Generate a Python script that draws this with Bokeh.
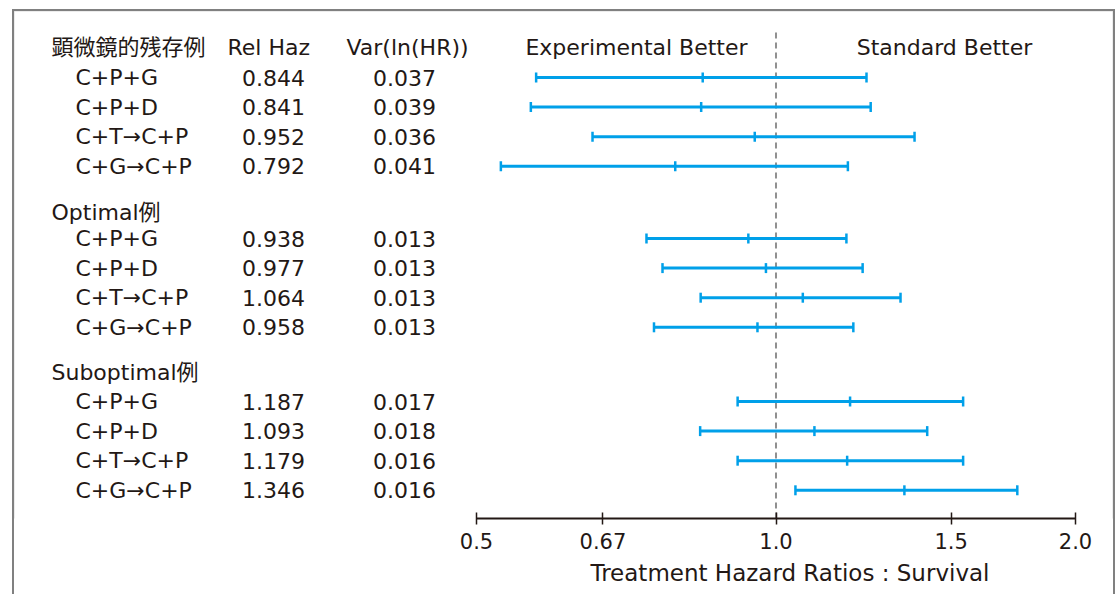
import numpy as np
from bokeh.plotting import figure
from bokeh.models import (Range1d, LogScale, LogAxis, FixedTicker, CustomJSTickFormatter,
                          ColumnDataSource, BoxAnnotation, Title, InlineStyleSheet)
from bokeh.core.properties import value
from bokeh.embed import file_html
from bokeh.resources import INLINE

# ---------------- data ----------------
groups = ["顕微鏡的残存例", "Optimal例", "Suboptimal例"]
treatments = ["C+P+G", "C+P+D", "C+T→C+P", "C+G→C+P"]
rel_haz = [0.844, 0.841, 0.952, 0.792,
           0.938, 0.977, 1.064, 0.958,
           1.187, 1.093, 1.179, 1.346]
var_lnhr = [0.037, 0.039, 0.036, 0.041,
            0.013, 0.013, 0.013, 0.013,
            0.017, 0.018, 0.016, 0.016]
ci_low = [0.574, 0.567, 0.654, 0.529,
          0.741, 0.769, 0.840, 0.754,
          0.915, 0.839, 0.915, 1.046]
ci_high = [1.233, 1.245, 1.378, 1.181,
           1.177, 1.222, 1.334, 1.196,
           1.542, 1.419, 1.542, 1.748]
col_headers = ["Rel Haz", "Var(ln(HR))"]
side_labels = ["Experimental Better", "Standard Better"]
tick_values = [0.5, 0.67, 1.0, 1.5, 2.0]
axis_title = "Treatment Hazard Ratios : Survival"

# ---------------- layout ----------------
W, H = 1120, 594
FRAME_H = 518
AX_LEFT_PX, AX_RIGHT_PX = 476, 1075
HEADER_Y = [47, 212, 372]
FIRST_ROW_Y = [77, 238, 401]
ROW_STEP = 29.6
TXT = "#231815"
BLUE = "#00a0e9"
BORDER = "#808080"
FONT = "DejaVu Sans, Noto Sans CJK JP"

span = np.log(tick_values[-1] / tick_values[0])
per_px = span / (AX_RIGHT_PX - AX_LEFT_PX)
hr_lo = tick_values[0] * np.exp(-AX_LEFT_PX * per_px)
hr_hi = tick_values[-1] * np.exp((W - AX_RIGHT_PX) * per_px)

border_css = InlineStyleSheet(css=f"""
:host::after {{
  content: "";
  position: absolute;
  left: 12px; top: 9px; width: 1099px; height: 600px;
  border-top: 2px solid {BORDER};
  border-left: 2px solid {BORDER};
  border-right: 2px solid {BORDER};
  pointer-events: none;
}}
""")

p = figure(width=W, height=H, output_backend="svg", toolbar_location=None,
           x_range=Range1d(0, W), y_range=Range1d(FRAME_H, 0),
           x_axis_type=None, y_axis_type=None,
           min_border_left=0, min_border_right=0, min_border_top=0,
           min_border_bottom=H - FRAME_H, stylesheets=[border_css])
p.outline_line_color = None
p.grid.visible = False
p.background_fill_color = "white"
p.border_fill_color = "white"
p.extra_x_ranges = {"hr": Range1d(hr_lo, hr_hi)}
p.extra_x_scales = {"hr": LogScale()}

# rows
row_y, row_lab = [], []
for g in range(len(groups)):
    for i, t in enumerate(treatments):
        row_y.append(FIRST_ROW_Y[g] + i * ROW_STEP)
        row_lab.append(t)

src = ColumnDataSource(dict(
    y=row_y, lab=row_lab, hr=rel_haz, lo=ci_low, hi=ci_high,
    hr_txt=[f"{v:.3f}" for v in rel_haz],
    var_txt=[f"{v:.3f}" for v in var_lnhr],
    x_lab=[75] * len(row_y), x_hr=[273] * len(row_y), x_var=[404] * len(row_y),
))

# border frame (inside the plotting area)
p.add_layout(BoxAnnotation(left=13, right=1113, top=10, bottom=700,
                           fill_alpha=0, line_color=BORDER, line_width=2))

# reference line at HR = 1
p.segment(x0=[1.0], x1=[1.0], y0=[32], y1=[FRAME_H], x_range_name="hr",
          line_color="#555555", line_width=1.3, line_dash="6 4")

# confidence intervals
p.segment(x0="lo", x1="hi", y0="y", y1="y", source=src, x_range_name="hr",
          line_color=BLUE, line_width=3)
for col in ["lo", "hi", "hr"]:
    p.scatter(x=col, y="y", source=src, x_range_name="hr", marker="dash",
              angle=np.pi / 2, size=10, line_color=BLUE, line_width=2.5)

tk = dict(text_font=value(FONT), text_font_size="22px", text_color=TXT,
          text_baseline="middle")
p.text(x="x_lab", y="y", text="lab", source=src, text_align="left", **tk)
p.text(x="x_hr", y="y", text="hr_txt", source=src, text_align="center", **tk)
p.text(x="x_var", y="y", text="var_txt", source=src, text_align="center", **tk)
p.text(x=[51] * len(groups), y=HEADER_Y, text=groups, text_align="left", **tk)
p.text(x=[227, 346], y=[HEADER_Y[0]] * 2, text=col_headers, text_align="left", **tk)
p.text(x=[636, 944], y=[HEADER_Y[0]] * 2, text=side_labels, text_align="center", **tk)

# log axis
ax = LogAxis(x_range_name="hr", ticker=FixedTicker(ticks=tick_values),
             bounds=(tick_values[0], tick_values[-1]))
ax.formatter = CustomJSTickFormatter(code="return (tick > 0.6 && tick < 0.9) ? tick.toFixed(2) : tick.toFixed(1);")
ax.axis_line_color = TXT
ax.axis_line_width = 2
ax.major_tick_line_color = TXT
ax.major_tick_line_width = 1.5
ax.major_tick_in = 6
ax.major_tick_out = 6
ax.minor_tick_line_color = None
ax.major_label_text_font = FONT
ax.major_label_text_font_size = "21px"
ax.major_label_text_color = TXT
ax.major_label_standoff = 8
p.add_layout(ax, "below")

p.add_layout(Title(text=axis_title, align="left", offset=590, standoff=12,
                   text_font=FONT, text_font_size="23px", text_font_style="normal",
                   text_color=TXT), "below")

open("out.html", "w").write(file_html(p, INLINE))
